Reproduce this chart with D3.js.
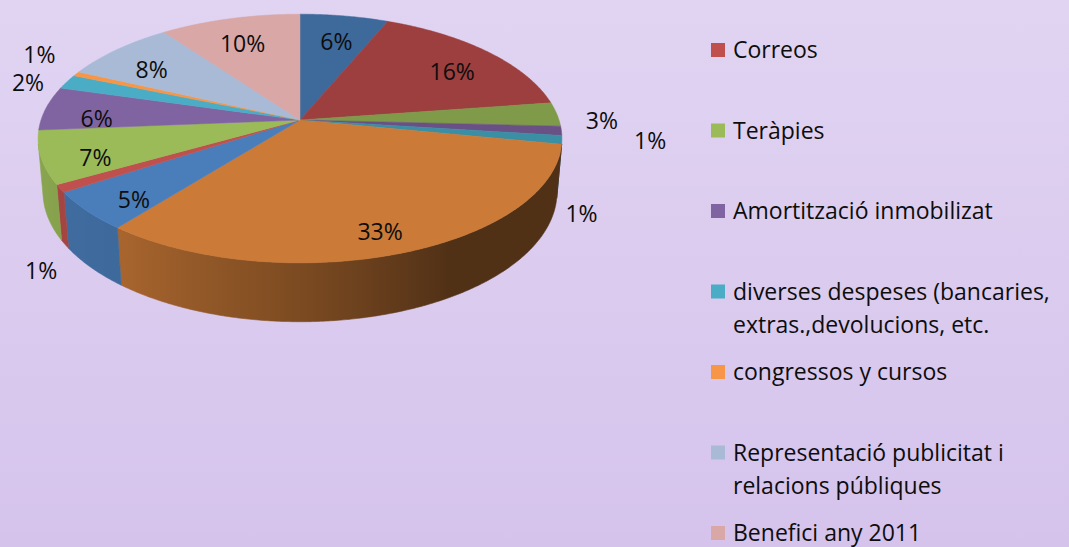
<!DOCTYPE html>
<html>
<head>
<meta charset="utf-8">
<script src="https://cdn.jsdelivr.net/npm/d3@7"></script>
<style>
  html, body { margin: 0; padding: 0; }
  body { width: 1069px; height: 547px; overflow: hidden; }
  text { font-family: "Open Sans", Lato, sans-serif; fill: #0d0d0d; }
</style>
</head>
<body>
<svg id="chart" width="1069" height="547"></svg>
<script>
// slice values (percent), clockwise from 12 o'clock
var values = [6.3, 16.4, 3.1, 1.2, 1.1, 32.6, 5.1, 1.0, 6.9, 5.7, 1.9, 0.6, 8.1, 10.0]
var colors = ['#3d699b', '#9c3f3e', '#7f9a48', '#6a5185', '#3a8fa4', '#cb7a37',
              '#4a7ebb', '#c0504d', '#9bbb59', '#8064a2', '#4bacc6', '#f79646',
              '#a9bad6', '#d9a7a6']
// only the last seven entries are visible in the legend
var names = ['', '', '', '', '', '', '',
             'Correos', 'Teràpies', 'Amortització inmobilizat',
             'diverses despeses (bancaries, extras.,devolucions, etc.',
             'congressos y cursos',
             'Representació publicitat i relacions públiques',
             'Benefici any 2011']

var W = 1069, H = 547
var svg = d3.select('#chart')

// background gradient
var defs = svg.append('defs')
var bg = defs.append('linearGradient').attr('id', 'bg')
    .attr('x1', 0).attr('y1', 0).attr('x2', 0).attr('y2', 1)
bg.append('stop').attr('offset', 0).attr('stop-color', '#e1d4f2')
bg.append('stop').attr('offset', 1).attr('stop-color', '#d5c3ec')
svg.append('rect').attr('width', W).attr('height', H).attr('fill', 'url(#bg)')

// 3D pie geometry (perspective)
var cx = 300, cy = 120, R = 259, depth = 61
var tilt = 28 * Math.PI / 180, focal = 1536
var deg = Math.PI / 180

function proj(a, r, z) {
    var X = r * Math.sin(a), Y = -r * Math.cos(a)
    var d = Y * Math.cos(tilt) + z * Math.sin(tilt)
    var v = Y * Math.sin(tilt) - z * Math.cos(tilt)
    var s = focal / (focal - d)
    return [cx + X * s, cy + v * s]
}
function rim(a0, a1, r, z) {
    var n = Math.max(2, Math.ceil((a1 - a0) / (0.5 * deg)))
    var pts = []
    for (var i = 0; i <= n; ++i) pts.push(proj(a0 + (a1 - a0) * i / n, r, z))
    return pts
}

var pie = d3.pie().sort(null).startAngle(0).endAngle(2 * Math.PI)
var arcs = pie(values)
var total = d3.sum(values)
var line = d3.line()

// side shading by angle (degrees, clockwise from top)
var shade = d3.scaleLinear()
    .domain([90, 150, 180, 218, 250, 270])
    .range([0.4, 0.4, 0.61, 0.83, 0.88, 0.88]).clamp(true)
function darken(c, k) {
    var rgb = d3.rgb(c)
    return d3.rgb(rgb.r * k, rgb.g * k, rgb.b * k).formatHex()
}

// visible wall: between the tangent generators
var wallLo = 101 * deg, wallHi = 259 * deg
var walls = svg.append('g')
arcs.forEach(function(p, i) {
    var lo = Math.max(p.startAngle, wallLo), hi = Math.min(p.endAngle, wallHi)
    if (hi <= lo) return
    var top = rim(lo, hi, R, 0)
    var bottom = rim(lo, hi, R, -depth).reverse()
    var x1 = top[0][0], x2 = top[top.length - 1][0]
    var g = defs.append('linearGradient').attr('id', 'wall' + i)
        .attr('gradientUnits', 'userSpaceOnUse')
        .attr('x1', x1).attr('y1', 0).attr('x2', x2).attr('y2', 0)
    for (var k = 0; k <= 12; ++k) {
        var a = lo + (hi - lo) * k / 12
        var x = proj(a, R, 0)[0]
        g.append('stop')
            .attr('offset', Math.abs(x2 - x1) < 0.01 ? 0 : (x - x1) / (x2 - x1))
            .attr('stop-color', darken(colors[i], shade(a / deg)))
    }
    walls.append('path')
        .attr('d', line(top.concat(bottom)) + 'Z')
        .attr('fill', 'url(#wall' + i + ')')
        .attr('stroke', 'url(#wall' + i + ')')
        .attr('stroke-width', 0.6)
})

// top faces
svg.append('g').selectAll('path')
    .data(arcs)
    .enter()
    .append('path')
    .attr('d', function(p) {
        return line([[cx, cy]].concat(rim(p.startAngle, p.endAngle, R, 0))) + 'Z'
    })
    .attr('fill', function(p, i) { return colors[i] })
    .attr('stroke', function(p, i) { return colors[i] })
    .attr('stroke-width', 0.5)

// percentage labels
var labelG = svg.append('g').attr('font-size', 23)
var placed = []
arcs.forEach(function(p, i) {
    var pct = p.value / total * 100
    var mid = (p.startAngle + p.endAngle) / 2
    var pos, outside = pct < 4
    if (!outside) {
        pos = proj(mid, R * 0.8, -depth * 0.15)
    } else {
        var md = mid / deg
        var front = md > 96 && md < 265
        pos = front ? proj(mid, R * 1.1, -depth * 1.35) : proj(mid, R * 1.18, -depth * 0.15)
    }
    var t = labelG.append('text')
        .attr('text-anchor', 'middle')
        .text(Math.round(pct) + '%')
    var w = t.node().getComputedTextLength(), h = 22
    if (outside) {
        // nudge away from labels already placed
        placed.forEach(function(b) {
            if (Math.abs(pos[0] - b.x) < (w + b.w) / 2 && Math.abs(pos[1] - b.y) < h) {
                var dir = pos[0] >= cx ? 1 : -1
                var nx = b.x + dir * ((w + b.w) / 2 + 16)
                if (nx - w / 2 > 0 && nx + w / 2 < 690) pos[0] = nx
                else pos[1] = pos[1] < cy + 60 ? b.y - h - 6 : b.y + h + 6
            }
        })
        placed.push({ x: pos[0], y: pos[1], w: w })
    }
    t.attr('x', pos[0]).attr('y', pos[1] + 8)
})

// legend
var legend = svg.append('g').attr('font-size', 23)
var shown = names.map(function(n, i) { return { name: n, i: i } })
    .filter(function(d) { return d.name })
var rowY = d3.scaleLinear().domain([0, shown.length - 1]).range([50, 533])
shown.forEach(function(d, k) {
    var y = rowY(k)
    legend.append('rect')
        .attr('x', 711).attr('y', y - 7).attr('width', 14).attr('height', 14)
        .attr('fill', colors[d.i])
    var t = legend.append('text').attr('x', 733).attr('y', y + 8)
    // word wrap
    var words = d.name.split(' '), cur = []
    var ts = t.append('tspan').attr('x', 733).attr('dy', 0)
    words.forEach(function(wd) {
        cur.push(wd)
        ts.text(cur.join(' '))
        if (ts.node().getComputedTextLength() > 330 && cur.length > 1) {
            cur.pop()
            ts.text(cur.join(' '))
            cur = [wd]
            ts = t.append('tspan').attr('x', 733).attr('dy', 33).text(wd)
        }
    })
})
</script>
</body>
</html>
